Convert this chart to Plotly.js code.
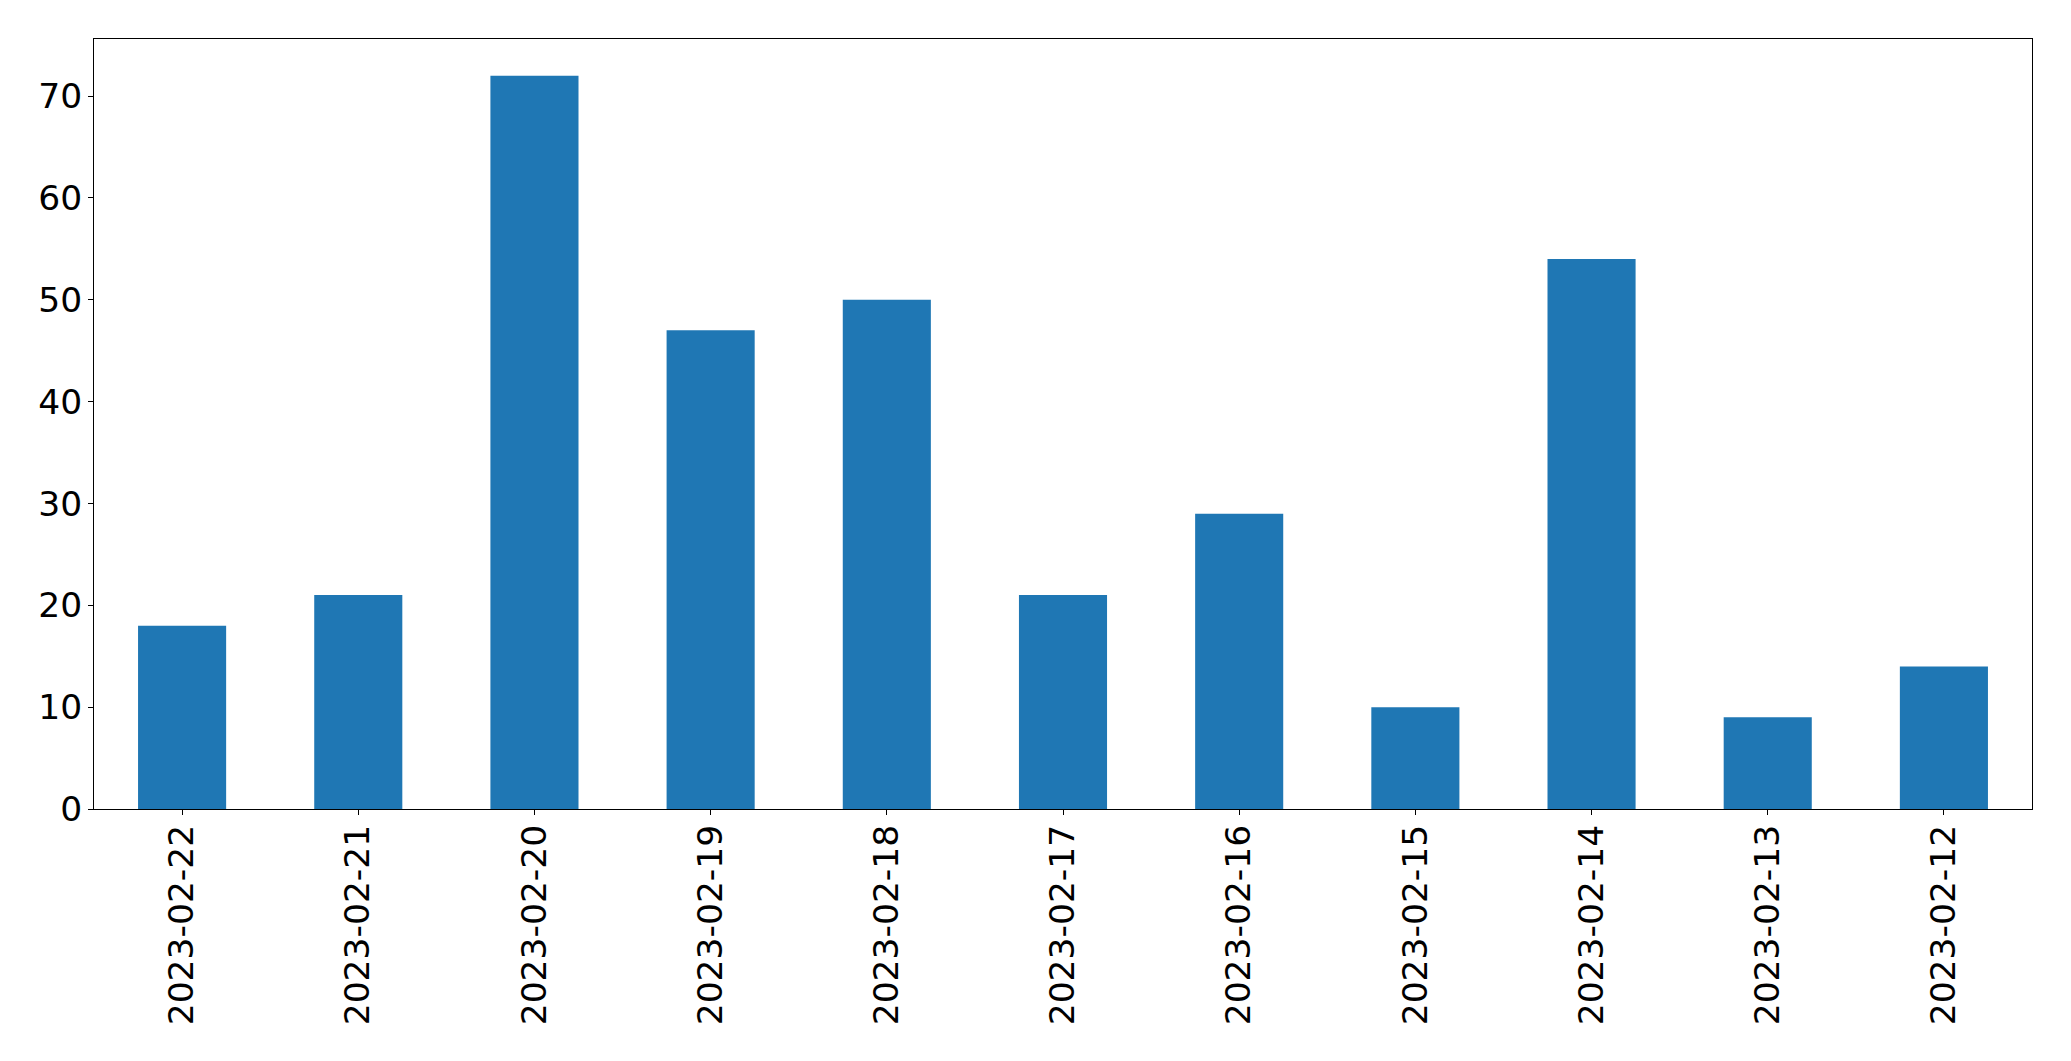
<!DOCTYPE html>
<html>
<head>
<meta charset="utf-8">
<script src="https://cdn.plot.ly/plotly-3.0.1.min.js"></script>
<style>html,body{margin:0;padding:0;background:#fff;}#chart{width:2071px;height:1061px;}</style>
</head>
<body>
<div id="chart"></div>
<script>
const categories = ["2023-02-22","2023-02-21","2023-02-20","2023-02-19","2023-02-18","2023-02-17","2023-02-16","2023-02-15","2023-02-14","2023-02-13","2023-02-12"];
const values = [18, 21, 72, 47, 50, 21, 29, 10, 54, 9, 14];
const yTicks = [0, 10, 20, 30, 40, 50, 60, 70];

const trace = {
  type: 'bar',
  x: categories,
  y: values,
  marker: {color: '#1f77b4', line: {width: 0}},
  hoverinfo: 'x+y'
};
const font = {family: 'DejaVu Sans', size: 34.5, color: '#000'};
const layout = {
  width: 2071, height: 1061,
  margin: {l: 94, r: 39, t: 39, b: 252, pad: 0},
  paper_bgcolor: '#fff', plot_bgcolor: '#fff',
  showlegend: false,
  bargap: 0.5,
  font: font,
  xaxis: {
    type: 'category',
    range: [-0.5, categories.length - 0.5],
    tickangle: -90,
    ticks: 'outside', ticklen: 5, tickwidth: 1, tickcolor: '#000',
    showline: true, linecolor: '#000', linewidth: 1, mirror: true,
    showgrid: false, zeroline: false,
    tickfont: font,
    ticklabelstandoff: -4
  },
  yaxis: {
    range: [0, 75.6],
    tickvals: yTicks,
    ticktext: yTicks.map(String),
    ticks: 'outside', ticklen: 5, tickwidth: 1, tickcolor: '#000',
    showline: true, linecolor: '#000', linewidth: 1, mirror: true,
    showgrid: false, zeroline: false,
    tickfont: font,
    ticklabelstandoff: -1
  }
};
Plotly.newPlot('chart', [trace], layout, {displayModeBar: false, staticPlot: true});
</script>
</body>
</html>
